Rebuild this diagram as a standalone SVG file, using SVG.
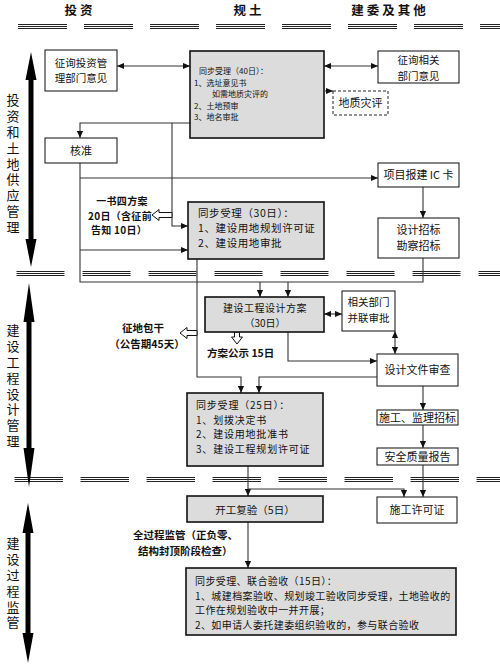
<svg xmlns="http://www.w3.org/2000/svg" width="500" height="667" viewBox="0 0 500 667">
<style>
text{font-family:"Noto Sans CJK SC","Noto Sans",sans-serif;fill:#111}
.hd{font-size:12.5px;font-weight:700;letter-spacing:3px;text-anchor:middle}
.side{font-size:13px;writing-mode:vertical-rl;letter-spacing:2.9px}
.t{font-size:11px;text-anchor:middle}
.t2{font-size:10.5px;text-anchor:middle}
.s{font-size:8px}
.m{font-size:10.5px;letter-spacing:0.6px}
.m2{font-size:10px;letter-spacing:0.8px}
.b{font-size:10.5px;font-weight:700}
.bc{font-size:10.5px;font-weight:700;text-anchor:middle}
.bc2{font-size:10px;font-weight:700;text-anchor:middle;letter-spacing:0.3px}
.g{fill:#dcdcdc;stroke:#111;stroke-width:1.6}
.w{fill:#fff;stroke:#222;stroke-width:1.1}
.dw{fill:#fff;stroke:#222;stroke-width:1;stroke-dasharray:3 2}
.c{fill:none;stroke:#333;stroke-width:1.1}
.ar{marker-end:url(#ah)}
.da{marker-start:url(#as);marker-end:url(#ah)}
.dv line{stroke:#222;stroke-width:1}
.hol{fill:#fff;stroke:#111;stroke-width:1}
.big{fill:#000}
</style>
<defs>
<marker id="ah" viewBox="0 0 8 8" refX="8" refY="4" markerWidth="7" markerHeight="7" markerUnits="userSpaceOnUse" orient="auto"><path d="M0,0.5 L8,4 L0,7.5 Z" fill="#111"/></marker>
<marker id="as" viewBox="0 0 8 8" refX="0" refY="4" markerWidth="7" markerHeight="7" markerUnits="userSpaceOnUse" orient="auto"><path d="M8,0.5 L0,4 L8,7.5 Z" fill="#111"/></marker>
</defs>
<rect width="500" height="667" fill="#fff"/>

<g id="headers">
<text class="hd" x="80" y="15">投资</text>
<text class="hd" x="249" y="15">规土</text>
<text class="hd" x="390" y="15">建委及其他</text>
</g>

<g id="dividers" class="dv">
<g stroke-dasharray="49 17"><line x1="18" y1="24.5" x2="500" y2="24.5"/><line x1="18" y1="26.5" x2="500" y2="26.5"/><line x1="18" y1="28.5" x2="500" y2="28.5"/></g>
<g stroke-dasharray="48 18"><line x1="16.5" y1="271.5" x2="500" y2="271.5"/><line x1="16.5" y1="273.5" x2="500" y2="273.5"/><line x1="16.5" y1="275.5" x2="500" y2="275.5"/></g>
<g stroke-dasharray="48.5 17.5"><line x1="14.5" y1="477.5" x2="500" y2="477.5"/><line x1="14.5" y1="479.5" x2="500" y2="479.5"/><line x1="14.5" y1="481.5" x2="500" y2="481.5"/></g>
</g>

<g id="phase-arrows">
<path class="big" d="M31,52 L36.5,80 L33.5,80 L33.5,239 L36.5,239 L31,267 L25.5,239 L28.5,239 L28.5,80 L25.5,80 Z"/>
<path class="big" d="M29,283 L34.5,322 L31.5,322 L31.5,448 L34.5,448 L29,487 L23.5,448 L26.5,448 L26.5,322 L23.5,322 Z"/>
<path class="big" d="M28,503 L33.5,533 L30.5,533 L30.5,633 L33.5,633 L28,663 L22.5,633 L25.5,633 L25.5,533 L22.5,533 Z"/>
</g>

<g id="phase-labels">
<text class="side" x="13" y="93.5">投资和土地供应管理</text>
<text class="side" x="13" y="323.5">建设工程设计管理</text>
<text class="side" x="13" y="536.5">建设过程监管</text>
</g>

<g id="connectors">
<line class="c da" x1="117" y1="66" x2="190" y2="66"/>
<line class="c da" x1="324" y1="66" x2="378" y2="66"/>
<line class="c da" x1="290" y1="91" x2="333" y2="91" stroke-dasharray="3 2"/>
<path class="c ar" d="M190,123 H80 V138"/>
<path class="c ar" d="M172,123 V226 H188"/>
<path class="c" d="M80,163 V282 H423 V258"/>
<path class="c ar" d="M80,178 H378"/>
<path class="c ar" d="M80,250 H188"/>
<path class="c ar" d="M260,282 V297"/>
<path class="c ar" d="M288,282 V297"/>
<path class="c ar" d="M423,187 V218"/>
<path class="c ar" d="M197,259 V377 H241 V393"/>
<line class="c da" x1="324" y1="314" x2="342" y2="314"/>
<line class="c da" x1="395" y1="331" x2="395" y2="354"/>
<path class="c ar" d="M288,332 V361 H377"/>
<path class="c ar" d="M377,377 H259 V393"/>
<path class="c ar" d="M423,386 V410"/>
<path class="c ar" d="M423,425 V448"/>
<path class="c ar" d="M423,465 V497"/>
<path class="c ar" d="M248,466 V496"/>
<path class="c ar" d="M248,489 H404 V497"/>
<path class="c ar" d="M248,522 V568"/>
<path class="hol" d="M152,215 L159,209.5 L159,212.5 L172,212.5 L172,217.5 L159,217.5 L159,220.5 Z"/>
<path class="hol" d="M180,333 L187,327.5 L187,330.5 L197,330.5 L197,335.5 L187,335.5 L187,338.5 Z"/>
<path class="hol" d="M237,344 L231.5,337 L234.5,337 L234.5,332 L239.5,332 L239.5,337 L242.5,337 Z"/>
</g>

<g id="n-tzgl">
<rect class="w" x="45" y="50" width="72" height="41"/>
<text class="t2" x="81" y="66.5">征询投资管</text>
<text class="t2" x="81" y="82">理部门意见</text>
</g>

<g id="n-tb40">
<rect class="g" x="190" y="51" width="134" height="87"/>
<text class="s" x="199" y="74">同步受理（40日）：</text>
<text class="s" x="194" y="85.5">1、选址意见书</text>
<text class="s" x="212" y="97">如需地质灾评的</text>
<text class="s" x="194" y="108.5">2、土地预审</text>
<text class="s" x="194" y="120">3、地名审批</text>
</g>

<g id="n-xgbm">
<rect class="w" x="378" y="51" width="81" height="32"/>
<text class="t2" x="418.5" y="64">征询相关</text>
<text class="t2" x="418.5" y="79.5">部门意见</text>
</g>

<g id="n-dzzp">
<rect class="dw" x="333" y="91" width="55" height="24"/>
<text class="t" x="360.5" y="107">地质灾评</text>
</g>

<g id="n-hz">
<rect class="w" x="45" y="138" width="72" height="25"/>
<text class="t" x="81" y="155">核准</text>
</g>

<g id="n-ic">
<rect class="w" x="378" y="163" width="81" height="24"/>
<text class="t" x="418.5" y="179">项目报建 IC 卡</text>
</g>

<g id="n-sjzb">
<rect class="w" x="378" y="218" width="81" height="40"/>
<text class="t" x="418.5" y="234">设计招标</text>
<text class="t" x="418.5" y="249.5">勘察招标</text>
</g>

<g id="n-yszfa">
<text class="bc2" x="122" y="205">一书四方案</text>
<text class="bc2" x="120" y="219.5">20日（含征前</text>
<text class="bc2" x="119" y="234">告知 10日）</text>
</g>

<g id="n-tb30">
<rect class="g" x="188" y="202" width="136" height="57"/>
<text class="m" x="198" y="217">同步受理（30日）：</text>
<text class="m" x="198" y="232">1、建设用地规划许可证</text>
<text class="m" x="198" y="247">2、建设用地审批</text>
</g>

<g id="n-sjfa">
<rect class="g" x="205" y="297" width="119" height="35"/>
<text class="t" x="265" y="312" style="font-size:10px;letter-spacing:0.5px">建设工程设计方案</text>
<text class="t" x="265" y="327" style="font-size:10px">（30日）</text>
</g>

<g id="n-fags">
<text class="b" x="207" y="357">方案公示 15日</text>
</g>

<g id="n-zdbg">
<text class="bc" x="143" y="332">征地包干</text>
<text class="bc" x="147" y="347.5">（公告期45天）</text>
</g>

<g id="n-bl">
<rect class="w" x="342" y="291" width="53" height="40"/>
<text class="t2" x="368.5" y="306">相关部门</text>
<text class="t2" x="368.5" y="321.5">并联审批</text>
</g>

<g id="n-sjwj">
<rect class="w" x="377" y="354" width="81" height="32"/>
<text class="t" x="417.5" y="374">设计文件审查</text>
</g>

<g id="n-tb25">
<rect class="g" x="187" y="393" width="136" height="73"/>
<text class="m2" x="196" y="409">同步受理（25日）：</text>
<text class="m2" x="196" y="423.5">1、划拨决定书</text>
<text class="m2" x="196" y="438">2、建设用地批准书</text>
<text class="m2" x="196" y="452.5">3、建设工程规划许可证</text>
</g>

<g id="n-sgjl">
<rect class="w" x="377" y="410" width="81" height="15"/>
<text class="t" x="417.5" y="422">施工、监理招标</text>
</g>

<g id="n-aqzl">
<rect class="w" x="377" y="448" width="81" height="17"/>
<text class="t" x="417.5" y="461">安全质量报告</text>
</g>

<g id="n-sgxk">
<rect class="w" x="377" y="497" width="80" height="26"/>
<text class="t" x="417" y="514">施工许可证</text>
</g>

<g id="n-kgfy">
<rect class="g" x="187" y="496" width="136" height="26"/>
<text class="t" x="255" y="514" style="font-size:10.5px">开工复验（5日）</text>
</g>

<g id="n-qgc">
<text class="b" x="133" y="539">全过程监管（正负零、</text>
<text class="b" x="138" y="554.5">结构封顶阶段检查）</text>
</g>

<g id="n-lhys">
<rect class="g" x="186" y="568" width="270" height="67"/>
<text class="m" x="195" y="585" style="letter-spacing:0.4px;font-size:10px">同步受理、联合验收（15日）：</text>
<text class="m" x="195" y="599.5" style="letter-spacing:0.4px;font-size:10px">1、城建档案验收、规划竣工验收同步受理，土地验收的</text>
<text class="m" x="195" y="614" style="letter-spacing:0.4px;font-size:10px">工作在规划验收中一并开展；</text>
<text class="m" x="195" y="628.5" style="letter-spacing:0.4px;font-size:10px">2、如申请人委托建委组织验收的，参与联合验收</text>
</g>
</svg>
